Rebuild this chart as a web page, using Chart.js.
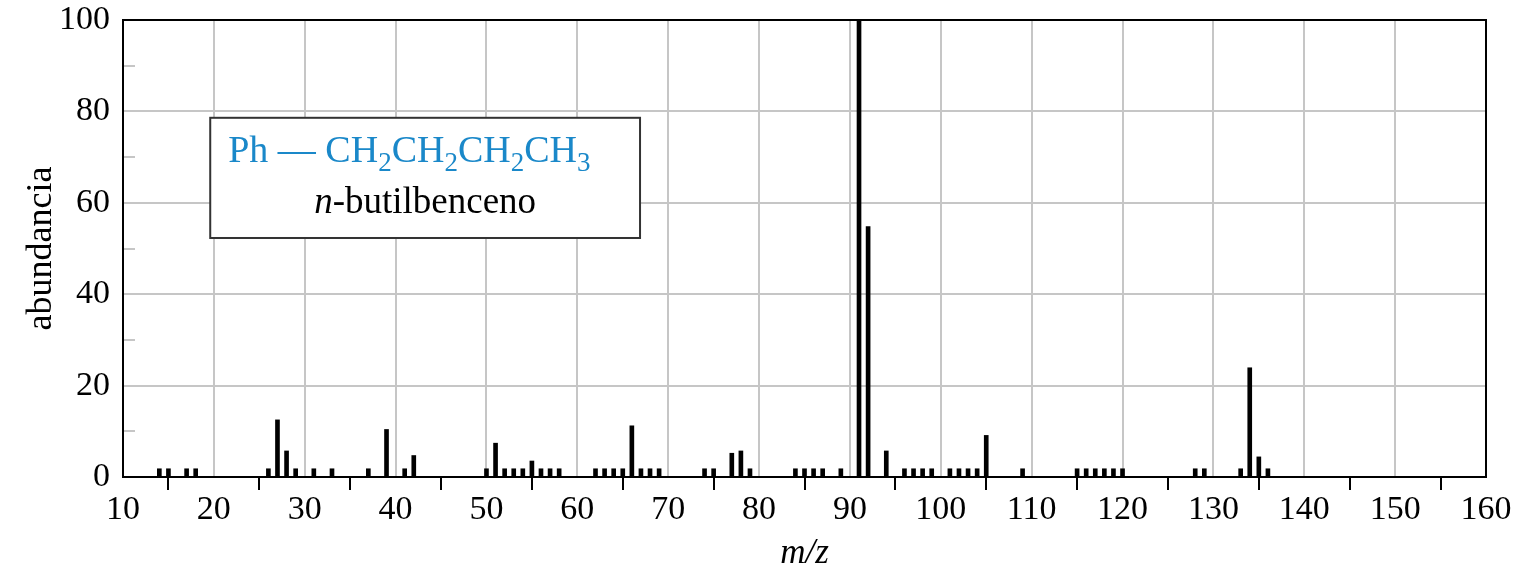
<!DOCTYPE html>
<html lang="es">
<head>
  <meta charset="UTF-8">
  <title>Espectro de masas - n-butilbenceno</title>
  <script src="https://cdn.jsdelivr.net/npm/chart.js"></script>
  <style>
    body {
      margin: 0;
      background: #fff;
    }
    canvas {
      display: block;
    }
  </style>
</head>
<body>
  <canvas id="msChart" width="1523" height="575"></canvas>

  <script>
    // m/z of each peak and its relative abundance (%)
    const mzValues = [
      14, 15, 17, 18, 26, 27, 28, 29, 31, 33, 37, 39, 41, 42,
      50, 51, 52, 53, 54, 55, 56, 57, 58, 62, 63, 64, 65, 66, 67, 68, 69,
      74, 75, 77, 78, 79, 84, 85, 86, 87, 89, 91, 92, 94,
      96, 97, 98, 99, 101, 102, 103, 104, 105, 109,
      115, 116, 117, 118, 119, 120, 128, 129, 133, 134, 135, 136
    ];
    const abundance = [
      1.8, 1.8, 1.8, 1.8, 1.8, 12.5, 5.7, 1.8, 1.8, 1.8, 1.8, 10.4, 1.8, 4.7,
      1.8, 7.4, 1.8, 1.8, 1.8, 3.5, 1.8, 1.8, 1.8, 1.8, 1.8, 1.8, 1.8, 11.2, 1.8, 1.8, 1.8,
      1.8, 1.8, 5.2, 5.7, 1.8, 1.8, 1.8, 1.8, 1.8, 1.8, 100, 54.8, 5.7,
      1.8, 1.8, 1.8, 1.8, 1.8, 1.8, 1.8, 1.8, 9.1, 1.8,
      1.8, 1.8, 1.8, 1.8, 1.8, 1.8, 1.8, 1.8, 1.8, 23.9, 4.4, 1.8
    ];

    const xMin = 10, xMax = 160;
    const yMin = 0, yMax = 100;

    const serif = '"Liberation Serif", "DejaVu Serif", serif';
    const gridGray = '#c6c6c6';
    const none = 'rgba(0,0,0,0)';

    // frame, short minor ticks on the y axis, and the compound label box
    const decorations = {
      id: 'decorations',
      afterDatasetsDraw(chart) {
        const { ctx, chartArea: a, scales: { x, y } } = chart;
        ctx.save();

        // minor ticks at 10, 30, 50 ... inside the plot
        ctx.strokeStyle = gridGray;
        ctx.lineWidth = 2;
        for (let v = 10; v < yMax; v += 20) {
          const py = Math.round(y.getPixelForValue(v));
          ctx.beginPath();
          ctx.moveTo(a.left, py);
          ctx.lineTo(a.left + 12, py);
          ctx.stroke();
        }

        // plot frame
        ctx.strokeStyle = '#000';
        ctx.lineWidth = 2;
        ctx.strokeRect(a.left, a.top, a.right - a.left, a.bottom - a.top);

        // label box
        const bx0 = x.getPixelForValue(19.6), bx1 = x.getPixelForValue(66.9);
        const by0 = y.getPixelForValue(78.6), by1 = y.getPixelForValue(52.3);
        ctx.fillStyle = '#fff';
        ctx.fillRect(bx0, by0, bx1 - bx0, by1 - by0);
        ctx.strokeStyle = '#333';
        ctx.strokeRect(bx0, by0, bx1 - bx0, by1 - by0);

        // formula with subscripts
        const parts = [
          ['Ph \u2014 CH', false], ['2', true], ['CH', false], ['2', true],
          ['CH', false], ['2', true], ['CH', false], ['3', true]
        ];
        ctx.fillStyle = '#1a88c9';
        ctx.textBaseline = 'alphabetic';
        ctx.textAlign = 'left';
        let tx = bx0 + 18;
        const base = by0 + 44;
        parts.forEach(([t, sub]) => {
          ctx.font = (sub ? '27px ' : '38px ') + serif;
          ctx.fillText(t, tx, sub ? base + 9 : base);
          tx += ctx.measureText(t).width;
        });

        // compound name, italic n
        ctx.fillStyle = '#000';
        const base2 = by0 + 95;
        ctx.font = 'italic 37px ' + serif;
        const nW = ctx.measureText('n').width;
        ctx.font = '37px ' + serif;
        const rest = '-butilbenceno';
        const restW = ctx.measureText(rest).width;
        const nx = (bx0 + bx1) / 2 - (nW + restW) / 2;
        ctx.font = 'italic 37px ' + serif;
        ctx.fillText('n', nx, base2);
        ctx.font = '37px ' + serif;
        ctx.fillText(rest, nx + nW, base2);

        ctx.restore();
      }
    };

    const points = mzValues.map((m, i) => ({ x: m, y: abundance[i] }));

    const ctx = document.getElementById('msChart').getContext('2d');
    new Chart(ctx, {
      type: 'bar',
      data: {
        datasets: [{
          data: points,
          backgroundColor: '#000',
          borderWidth: 0,
          barThickness: 4
        }]
      },
      options: {
        responsive: false,
        animation: false,
        layout: { padding: { top: 0, right: 37, left: 0, bottom: 0 } },
        plugins: {
          legend: { display: false },
          tooltip: { enabled: false }
        },
        scales: {
          x: {
            type: 'linear',
            min: xMin,
            max: xMax,
            offset: false,
            grid: {
              offset: false,
              lineWidth: 2,
              color: c => {
                const v = c.tick.value;
                return (v % 10 === 0 && v > xMin && v < xMax) ? gridGray : none;
              },
              tickColor: c => (c.tick.value % 10 === 0 ? none : '#000'),
              tickLength: 13,
              drawTicks: true
            },
            border: { display: true, color: '#000', width: 2 },
            ticks: {
              stepSize: 5,
              autoSkip: false,
              maxRotation: 0,
              padding: 0,
              color: '#000',
              font: { family: serif, size: 34 },
              callback: v => (v % 10 === 0 ? v : '')
            },
            title: {
              display: true,
              text: 'm/z',
              color: '#000',
              font: { family: serif, size: 35, style: 'italic' },
              padding: { top: 4, bottom: 0 }
            },
            afterFit: s => { s.height = 98; }
          },
          y: {
            min: yMin,
            max: yMax,
            grid: {
              lineWidth: 2,
              color: c => {
                const v = c.tick.value;
                return (v % 20 === 0 && v > yMin && v < yMax) ? gridGray : none;
              },
              drawTicks: false
            },
            border: { display: true, color: '#000', width: 2 },
            ticks: {
              stepSize: 10,
              autoSkip: false,
              padding: 13,
              color: '#000',
              font: { family: serif, size: 34 },
              callback: v => (v % 20 === 0 ? v : '')
            },
            title: {
              display: true,
              text: 'abundancia',
              color: '#000',
              font: { family: serif, size: 36 },
              padding: { top: 20, bottom: 0 }
            },
            afterFit: s => {
              s.width = 123;
              s.paddingTop = 20;
            }
          }
        }
      },
      plugins: [decorations]
    });
  </script>
</body>
</html>
